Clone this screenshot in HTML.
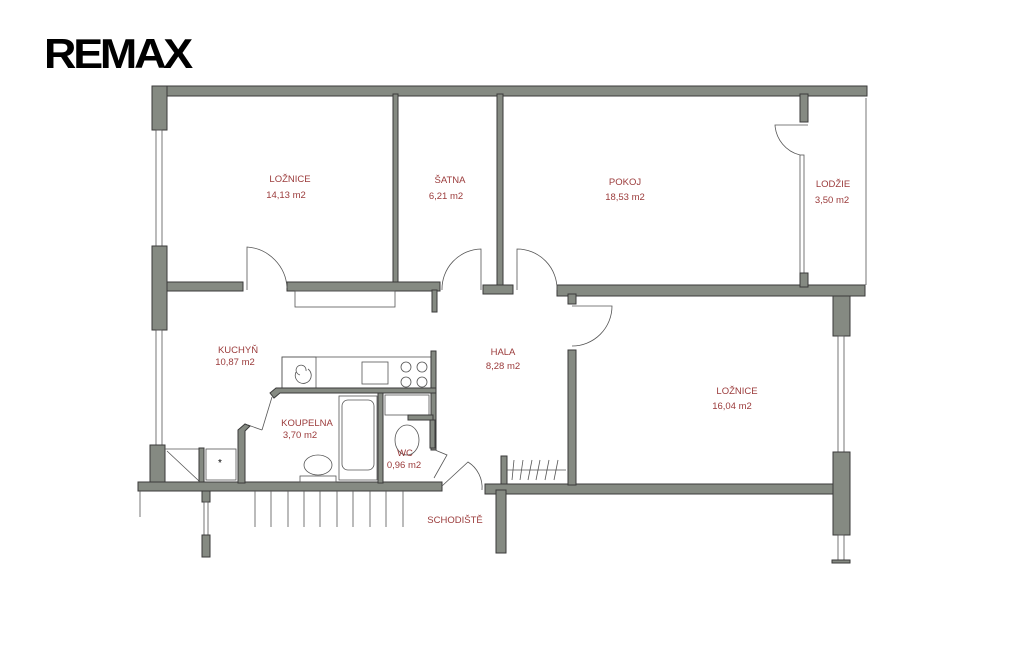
<!DOCTYPE html>
<html><head><meta charset="utf-8"><style>
html,body{margin:0;padding:0;background:#fff;}
svg{display:block}
.w{fill:#858a82;stroke:#3a3a3a;stroke-width:1}
.t{fill:none;stroke:#555;stroke-width:0.8}
.l{font-family:"Liberation Sans",sans-serif;font-size:9.5px;fill:#9b3b3b;text-anchor:middle}
</style></head><body>
<svg width="1024" height="670" viewBox="0 0 1024 670" xmlns="http://www.w3.org/2000/svg">
<text x="44" y="68" font-family="Liberation Sans" font-weight="bold" font-size="42" letter-spacing="-3" fill="#000" textLength="146" lengthAdjust="spacingAndGlyphs">REMAX</text>
<!-- exterior top -->
<rect class="w" x="152" y="86" width="715" height="10"/>
<!-- left wall -->
<rect class="w" x="152" y="86" width="15" height="44"/>
<rect class="t" x="156" y="130" width="6" height="116"/>
<rect class="w" x="152" y="246" width="15" height="84"/>
<rect class="t" x="156" y="330" width="6" height="115"/>
<rect class="w" x="150" y="445" width="15" height="37"/>
<!-- bottom walls -->
<rect class="w" x="138" y="482" width="304" height="9"/>
<rect class="w" x="485" y="484" width="360" height="10"/>
<line class="t" x1="140" y1="491" x2="140" y2="517"/>
<rect class="w" x="202" y="491" width="8" height="11"/>
<rect class="t" x="204" y="502" width="4" height="33"/>
<rect class="w" x="202" y="535" width="8" height="22"/>
<rect class="w" x="496" y="490" width="10" height="63"/>
<!-- interior top row -->
<rect class="w" x="393" y="94" width="5" height="191"/>
<rect class="w" x="497" y="94" width="6" height="192"/>
<rect class="w" x="483" y="285" width="30" height="9"/>
<rect class="w" x="167" y="282" width="76" height="9"/>
<rect class="w" x="287" y="282" width="153" height="9"/>
<rect class="w" x="432" y="290" width="5" height="22"/>
<rect class="t" x="295" y="291" width="100" height="16"/>
<rect class="w" x="557" y="285" width="308" height="11"/>
<rect class="w" x="568" y="294" width="8" height="10"/>
<!-- lodzie -->
<rect class="w" x="800" y="94" width="8" height="28"/>
<rect class="t" x="800" y="155" width="4" height="118"/>
<rect class="w" x="800" y="273" width="8" height="14"/>
<line class="t" x1="866" y1="98" x2="866" y2="285"/>
<path class="t" d="M808 125 L775 125 A33 33 0 0 0 800 155"/>
<!-- right wall -->
<rect class="w" x="833" y="296" width="17" height="40"/>
<rect class="t" x="838" y="336" width="6" height="116"/>
<rect class="w" x="833" y="452" width="17" height="83"/>
<rect class="t" x="838" y="535" width="6" height="25"/>
<rect class="w" x="832" y="560" width="18" height="3"/>
<!-- hala wall -->
<rect class="w" x="568" y="350" width="8" height="135"/>
<!-- doors -->
<path class="t" d="M247 290 L247 247 A43 43 0 0 1 287 288"/>
<path class="t" d="M481 290 L481 249 A40 40 0 0 0 442 290"/>
<path class="t" d="M517 290 L517 249 A40 40 0 0 1 557 290"/>
<path class="t" d="M572 306 L612 306 A40 40 0 0 1 572 346"/>
<!-- kitchen counter -->
<rect class="t" x="282" y="357" width="150" height="32"/>
<rect class="t" x="282" y="357" width="34" height="32"/>
<rect class="t" x="362" y="362" width="26" height="22"/>
<circle class="t" cx="406" cy="367" r="5"/><circle class="t" cx="422" cy="367" r="5"/>
<circle class="t" cx="406" cy="382" r="5"/><circle class="t" cx="422" cy="382" r="5"/>
<path class="t" d="M300 375 a5 5 0 1 1 6 -4 M296 372 a8 8 0 1 0 12 -3"/>
<rect class="w" x="431" y="351" width="5" height="99"/>
<!-- koupelna -->
<path class="w" d="M270 393 L276 388 L436 388 L436 393 L280 393 L274 398 Z"/>
<line class="t" x1="272" y1="397" x2="262" y2="430"/>
<line class="t" x1="262" y1="430" x2="248" y2="425"/>
<path class="w" d="M238 430 L245 424 L250 426 L245 431 L245 483 L238 483 Z"/>
<rect class="t" x="339" y="396" width="38" height="84"/>
<rect class="t" x="342" y="400" width="32" height="70" rx="6"/>
<ellipse class="t" cx="318" cy="465" rx="14" ry="10"/>
<rect class="t" x="300" y="476" width="36" height="6"/>
<rect class="w" x="378" y="393" width="5" height="90"/>
<!-- wc -->
<rect class="t" x="385" y="395" width="44" height="20"/>
<rect class="w" x="408" y="415" width="25" height="5"/>
<ellipse class="t" cx="407" cy="440" rx="12" ry="15"/>
<rect class="w" x="430" y="420" width="5" height="28"/>
<path class="t" d="M435 450 L447 455 L434 478"/>
<path class="t" d="M442 486 L468 462 A30 30 0 0 1 482 490"/>
<!-- closet hatch -->
<rect class="w" x="501" y="456" width="6" height="28"/>
<line class="t" x1="507" y1="470" x2="566" y2="470"/>
<g class="t"><line x1="512" y1="480" x2="514" y2="460"/><line x1="520" y1="480" x2="523" y2="460"/><line x1="528" y1="480" x2="532" y2="460"/><line x1="536" y1="480" x2="540" y2="460"/><line x1="545" y1="480" x2="549" y2="460"/><line x1="554" y1="480" x2="558" y2="460"/></g>
<!-- kitchen corner boxes -->
<line class="t" x1="165" y1="449" x2="199" y2="449"/>
<line class="t" x1="167" y1="451" x2="199" y2="481"/>
<rect class="w" x="199" y="448" width="5" height="34"/>
<rect class="t" x="206" y="449" width="30" height="31"/>
<text x="220" y="466" font-family="Liberation Sans" font-size="10" text-anchor="middle">*</text>
<!-- stairs -->
<g class="t"><line x1="255" y1="491" x2="255" y2="527"/><line x1="271" y1="491" x2="271" y2="527"/><line x1="288" y1="491" x2="288" y2="527"/><line x1="304" y1="491" x2="304" y2="527"/><line x1="320" y1="491" x2="320" y2="527"/><line x1="337" y1="491" x2="337" y2="527"/><line x1="353" y1="491" x2="353" y2="527"/><line x1="370" y1="491" x2="370" y2="527"/><line x1="386" y1="491" x2="386" y2="527"/><line x1="403" y1="491" x2="403" y2="527"/></g>
<!-- labels -->
<text class="l" x="290" y="182">LOŽNICE</text><text class="l" x="286" y="198">14,13 m2</text>
<text class="l" x="450" y="183">ŠATNA</text><text class="l" x="446" y="199">6,21 m2</text>
<text class="l" x="625" y="185">POKOJ</text><text class="l" x="625" y="200">18,53 m2</text>
<text class="l" x="833" y="187">LODŽIE</text><text class="l" x="832" y="203">3,50 m2</text>
<text class="l" x="238" y="353">KUCHYŇ</text><text class="l" x="235" y="365">10,87 m2</text>
<text class="l" x="503" y="355">HALA</text><text class="l" x="503" y="369">8,28 m2</text>
<text class="l" x="737" y="394">LOŽNICE</text><text class="l" x="732" y="409">16,04 m2</text>
<text class="l" x="307" y="426">KOUPELNA</text><text class="l" x="300" y="438">3,70 m2</text>
<text class="l" x="405" y="456">WC</text><text class="l" x="404" y="468">0,96 m2</text>
<text class="l" x="455" y="523">SCHODIŠTĚ</text>
</svg>
</body></html>
